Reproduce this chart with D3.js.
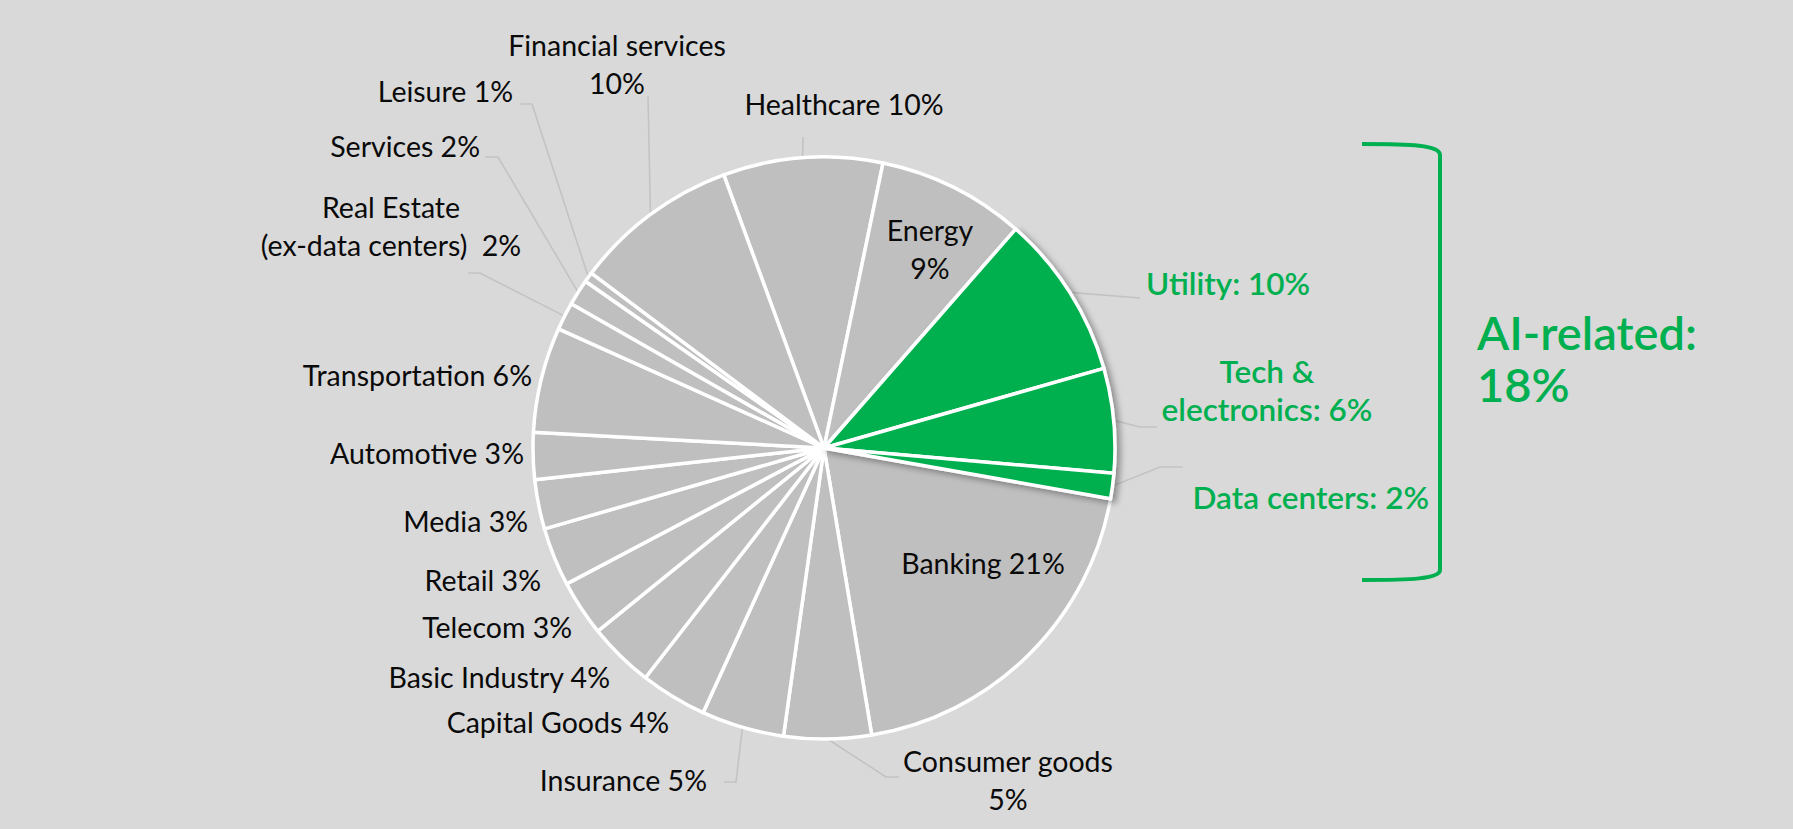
<!DOCTYPE html>
<html>
<head>
<meta charset="utf-8">
<script src="https://cdn.jsdelivr.net/npm/d3@7"></script>
<style>
  html, body { margin: 0; padding: 0; background: #d9d9d9; }
  svg { display: block; font-family: Lato, "Noto Sans", sans-serif; }
</style>
</head>
<body>
<div id="chart"></div>
<script>
var width = 1793
var height = 829

// sectors, clockwise from the top
var categories = ["Healthcare", "Energy", "Utility", "Tech & electronics", "Data centers",
  "Banking", "Consumer goods", "Insurance", "Capital Goods", "Basic Industry", "Telecom",
  "Retail", "Media", "Automotive", "Transportation", "Real Estate", "Services", "Leisure",
  "Financial services"]

// share of the pie (%)
var values = [8.85, 8.2, 9.15, 5.8, 1.4, 19.6, 4.85, 4.6, 3.7, 3.65, 3.1, 3.25, 2.75, 2.6,
  5.85, 1.55, 1.45, 0.55, 9.15]

// label text as printed
var labels = [
  ["Healthcare 10%"], ["Energy", "9%"], ["Utility: 10%"], ["Tech &", "electronics: 6%"],
  ["Data centers: 2%"], ["Banking 21%"], ["Consumer goods", "5%"], ["Insurance 5%"],
  ["Capital Goods 4%"], ["Basic Industry 4%"], ["Telecom 3%"], ["Retail 3%"], ["Media 3%"],
  ["Automotive 3%"], ["Transportation 6%"], ["Real Estate", "(ex-data centers)  2%"],
  ["Services 2%"], ["Leisure 1%"], ["Financial services", "10%"]
]

var aiRelated = ["Utility", "Tech & electronics", "Data centers"]
var aiLabel = ["AI-related:", "18%"]

// label placement relative to the pie centre: [x, y of first baseline, anchor]
var labelPos = [
  [20, -333, "middle"], [106, -207, "middle"], [322, -153, "start"], [443, -65, "middle"],
  [605, 61, "end"], [159, 126, "middle"], [184, 324, "middle"], [-117, 343, "end"],
  [-155, 285, "end"], [-214, 240, "end"], [-252, 190, "end"], [-283, 143, "end"],
  [-296, 84, "end"], [-300, 16, "end"], [-292, -62, "end"], [-433, -230, "middle"],
  [-344, -291, "end"], [-311, -346, "end"], [-207, -392, "middle"]
]

// leader line bends after leaving the slice edge (null = no leader)
var leaders = [
  [[-21, -311]], null, [[316, -150]], [[316, -21], [333, -21]], [[336, 19], [359, 19]],
  null, [[62, 329], [75, 329]], [[-88, 334], [-100, 334]], null, null, null, null, null,
  null, null, [[-344, -175], [-356, -175]], [[-326, -291], [-339, -291]],
  [[-292, -344], [-304, -344]], [[-176, -352]]
]

var cx = 824
var cy = 448
var radius = 291
var startAngle = -20.15 * Math.PI / 180
var lineGap = 38

var grey = "#bfbfbf"
var green = "#00b050"

var data = categories.map(function (c, i) {
  return { name: c, value: values[i], label: labels[i], pos: labelPos[i], leader: leaders[i] }
})

var svg = d3.select("#chart").append("svg")
  .attr("width", width)
  .attr("height", height)

svg.append("rect")
  .attr("width", width)
  .attr("height", height)
  .attr("fill", "#d9d9d9")

var defs = svg.append("defs")
var shadow = defs.append("filter")
  .attr("id", "shadow")
  .attr("x", "-20%").attr("y", "-20%")
  .attr("width", "140%").attr("height", "140%")
shadow.append("feDropShadow")
  .attr("dx", 4).attr("dy", 3)
  .attr("stdDeviation", 3)
  .attr("flood-color", "#000")
  .attr("flood-opacity", 0.35)

var pie = d3.pie()
  .sort(null)
  .value(function (d) { return d.value })
  .startAngle(startAngle)
  .endAngle(startAngle + 2 * Math.PI)

var arcs = pie(data)

var arc = d3.arc().innerRadius(0).outerRadius(radius)
var edge = d3.arc().innerRadius(radius).outerRadius(radius)

var g = svg.append("g")
  .attr("transform", "translate(" + cx + "," + cy + ")")

// leader lines sit under the slices
g.append("g").selectAll("path")
  .data(arcs.filter(function (d) { return d.data.leader }))
  .enter()
  .append("path")
  .attr("fill", "none")
  .attr("stroke", "#c3c3c3")
  .attr("stroke-width", 1.6)
  .attr("d", function (d) {
    return d3.line()([edge.centroid(d)].concat(d.data.leader))
  })

var isAi = function (d) { return aiRelated.indexOf(d.data.name) >= 0 }

g.append("g").selectAll("path")
  .data(arcs.filter(function (d) { return !isAi(d) }))
  .enter()
  .append("path")
  .attr("d", arc)
  .attr("fill", grey)
  .attr("stroke", "#fff")
  .attr("stroke-width", 3.5)
  .attr("stroke-linejoin", "round")

g.append("g")
  .attr("filter", "url(#shadow)")
  .selectAll("path")
  .data(arcs.filter(isAi))
  .enter()
  .append("path")
  .attr("d", arc)
  .attr("fill", green)
  .attr("stroke", "#fff")
  .attr("stroke-width", 3.5)
  .attr("stroke-linejoin", "round")

var txt = g.append("g").selectAll("text")
  .data(arcs)
  .enter()
  .append("text")
  .attr("x", function (d) { return d.data.pos[0] })
  .attr("y", function (d) { return d.data.pos[1] })
  .attr("text-anchor", function (d) { return d.data.pos[2] })
  .attr("font-size", function (d) { return isAi(d) ? 31.5 : 28.5 })
  .attr("font-weight", function (d) { return isAi(d) ? 600 : 400 })
  .attr("fill", function (d) { return isAi(d) ? green : "#0a0a0a" })

txt.selectAll("tspan")
  .data(function (d) {
    return d.data.label.map(function (t) { return { t: t, x: d.data.pos[0] } })
  })
  .enter()
  .append("tspan")
  .attr("x", function (d) { return d.x })
  .attr("dy", function (d, i) { return i === 0 ? 0 : lineGap })
  .attr("xml:space", "preserve")
  .style("white-space", "pre")
  .text(function (d) { return d.t })

// bracket round the AI-related slices
svg.append("path")
  .attr("fill", "none")
  .attr("stroke", green)
  .attr("stroke-width", 4)
  .attr("d", "M1362,144 C1410,144 1440,145 1440,155 L1440,570 C1440,579 1410,580 1362,580")

svg.append("text")
  .attr("x", 1477)
  .attr("y", 350)
  .attr("font-size", 47)
  .attr("font-weight", 600)
  .attr("fill", green)
  .selectAll("tspan")
  .data(aiLabel)
  .enter()
  .append("tspan")
  .attr("x", 1477)
  .attr("dy", function (d, i) { return i === 0 ? 0 : 52 })
  .text(function (d) { return d })
</script>
</body>
</html>
